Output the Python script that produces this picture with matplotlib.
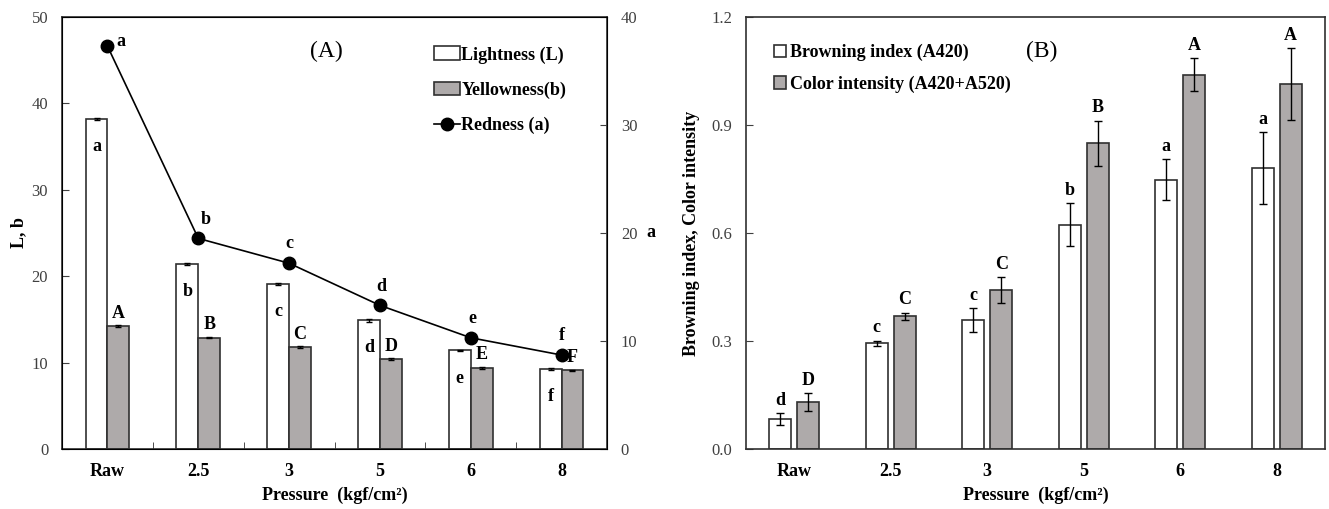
import matplotlib.pyplot as plt
import numpy as np

plt.rcParams['font.family'] = ['Liberation Serif', 'DejaVu Serif']

categories = ['Raw', '2.5', '3', '5', '6', '8']

# panel A
lightness = [38.2, 21.4, 19.1, 14.9, 11.4, 9.3]
lightness_err = [0.15, 0.15, 0.1, 0.15, 0.1, 0.1]
yellowness = [14.2, 12.9, 11.8, 10.4, 9.4, 9.1]
yellowness_err = [0.1, 0.1, 0.1, 0.1, 0.1, 0.1]
redness = [37.3, 19.5, 17.2, 13.3, 10.3, 8.7]
lightness_lbl = ['a', 'b', 'c', 'd', 'e', 'f']
yellowness_lbl = ['A', 'B', 'C', 'D', 'E', 'F']
redness_lbl = ['a', 'b', 'c', 'd', 'e', 'f']

# panel B
browning = [0.084, 0.294, 0.359, 0.623, 0.748, 0.781]
browning_err = [0.016, 0.007, 0.033, 0.06, 0.057, 0.10]
intensity = [0.130, 0.369, 0.442, 0.849, 1.040, 1.013]
intensity_err = [0.025, 0.010, 0.036, 0.063, 0.045, 0.10]
browning_lbl = ['d', 'c', 'c', 'b', 'a', 'a']
intensity_lbl = ['D', 'C', 'C', 'B', 'A', 'A']

grey = '#aeaaaa'
edge = '#303030'
tick_col = '#404040'

fig = plt.figure(figsize=(13.29, 5.09), dpi=100)
axA = fig.add_axes([0.0467, 0.1179, 0.410, 0.8487])
axB = fig.add_axes([0.5613, 0.1179, 0.4357, 0.8487])

x = np.arange(len(categories))

# ---- panel A
w = 0.24
axA.bar(x - w / 2, lightness, w, color='white', edgecolor=edge, linewidth=1.2,
        yerr=lightness_err, error_kw=dict(ecolor='black', capsize=2.5, elinewidth=1),
        label='Lightness (L)', zorder=2)
axA.bar(x + w / 2, yellowness, w, color=grey, edgecolor=edge, linewidth=1.2,
        yerr=yellowness_err, error_kw=dict(ecolor='black', capsize=2.5, elinewidth=1),
        label='Yellowness(b)', zorder=2)
for i in range(len(x)):
    axA.text(x[i] - w / 2, lightness[i] - 2.2, lightness_lbl[i], ha='center', va='top',
             fontsize=13, fontweight='bold')
    axA.text(x[i] + w / 2, yellowness[i] + 0.5, yellowness_lbl[i], ha='center', va='bottom',
             fontsize=13, fontweight='bold')
axA.set_xlim(-0.5, 5.5)
axA.set_ylim(0, 50)
axA.set_yticks([0, 10, 20, 30, 40, 50])
axA.set_xticks(x)
axA.set_xticklabels(categories, fontsize=13, fontweight='bold')
axA.set_xticks(x[:-1] + 0.5, minor=True)
axA.tick_params(axis='x', which='major', length=0, pad=10)
axA.tick_params(axis='x', which='minor', direction='in', length=5, color=edge)
axA.tick_params(axis='y', direction='in', length=5, colors=tick_col, labelsize=12, pad=10)
axA.set_xlabel('Pressure  (kgf/cm²)', fontsize=13, fontweight='bold', labelpad=5)
axA.set_ylabel('L, b', fontsize=13, fontweight='bold', labelpad=3)
for s in axA.spines.values():
    s.set_color(edge)
    s.set_linewidth(1.2)

axA2 = axA.twinx()
line, = axA2.plot(x, redness, color='black', marker='o', markersize=9, linewidth=1.2,
                  label='Redness (a)', zorder=3)
axA2.set_ylim(0, 40)
axA2.set_yticks([0, 10, 20, 30, 40])
axA2.tick_params(axis='y', direction='in', length=5, colors=tick_col, labelsize=12, pad=10)
axA2.set_ylabel('a', fontsize=13, fontweight='bold', rotation=0, labelpad=10, va='center')
red_dx = [0.1, 0.08, 0.0, 0.02, 0.02, 0.0]
for i in range(len(x)):
    if i == 0:
        axA2.text(x[i] + red_dx[i], redness[i] + 0.4, redness_lbl[i], ha='left', va='center',
                  fontsize=13, fontweight='bold')
    else:
        axA2.text(x[i] + red_dx[i], redness[i] + 1.0, redness_lbl[i], ha='center', va='bottom',
                  fontsize=13, fontweight='bold')
axA.text(0.485, 0.92, '(A)', transform=axA.transAxes, fontsize=17, ha='center', va='center')

h1, l1 = axA.get_legend_handles_labels()
axA.legend(h1 + [line], l1 + ['Redness (a)'], loc='upper right', bbox_to_anchor=(0.955, 0.97),
           frameon=False, prop={'weight': 'bold', 'size': 13}, labelspacing=1.0,
           handlelength=1.4, handletextpad=0.1, handleheight=0.8)

# ---- panel B
wb = 0.23
off = 0.145
axB.bar(x - off, browning, wb, color='white', edgecolor=edge, linewidth=1.2,
        yerr=browning_err, error_kw=dict(ecolor='black', capsize=3, elinewidth=1),
        label='Browning index (A420)', zorder=2)
axB.bar(x + off, intensity, wb, color=grey, edgecolor=edge, linewidth=1.2,
        yerr=intensity_err, error_kw=dict(ecolor='black', capsize=3, elinewidth=1),
        label='Color intensity (A420+A520)', zorder=2)
for i in range(len(x)):
    axB.text(x[i] - off, browning[i] + browning_err[i] + 0.012, browning_lbl[i],
             ha='center', va='bottom', fontsize=13, fontweight='bold')
    axB.text(x[i] + off, intensity[i] + intensity_err[i] + 0.012, intensity_lbl[i],
             ha='center', va='bottom', fontsize=13, fontweight='bold')
axB.set_xlim(-0.5, 5.5)
axB.set_ylim(0, 1.2)
axB.set_yticks([0, 0.3, 0.6, 0.9, 1.2])
axB.set_yticklabels(['0.0', '0.3', '0.6', '0.9', '1.2'])
axB.set_xticks(x)
axB.set_xticklabels(categories, fontsize=13, fontweight='bold')
axB.tick_params(axis='x', length=0, pad=10)
axB.tick_params(axis='y', direction='in', length=5, colors=tick_col, labelsize=12, pad=10)
axB.set_xlabel('Pressure  (kgf/cm²)', fontsize=13, fontweight='bold', labelpad=5)
axB.set_ylabel('Browning index, Color intensity', fontsize=13, fontweight='bold', labelpad=8)
for s in axB.spines.values():
    s.set_color(edge)
    s.set_linewidth(1.2)
axB.text(0.51, 0.92, '(B)', transform=axB.transAxes, fontsize=17, ha='center', va='center')
axB.legend(loc='upper left', bbox_to_anchor=(0.02, 0.975), frameon=False,
           prop={'weight': 'bold', 'size': 13}, labelspacing=0.8,
           handlelength=0.7, handleheight=0.7, handletextpad=0.2)

fig.savefig('out.png', dpi=100)
